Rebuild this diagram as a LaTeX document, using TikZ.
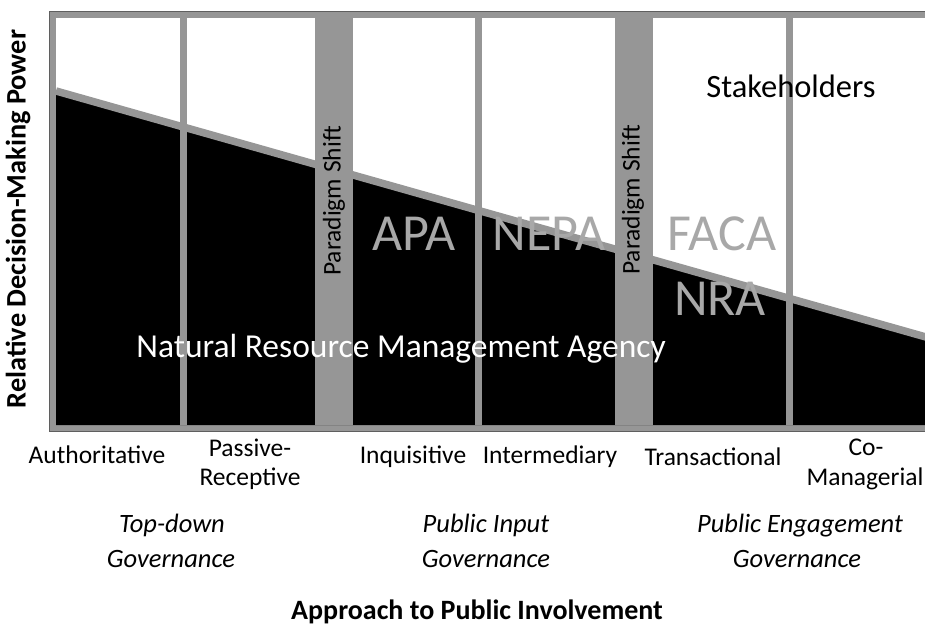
\documentclass[tikz,border=0pt]{standalone}
\usepackage{fontspec}
\setmainfont{Carlito}
\definecolor{bargray}{RGB}{150,150,150}
\definecolor{framedark}{RGB}{95,95,95}
\definecolor{lawgray}{RGB}{168,168,168}
\begin{document}
\begin{tikzpicture}[x=1pt,y=-1pt,
  bar/.style={fill=bargray},
  lawtext/.style={text=lawgray,font=\fontsize{52}{60}\selectfont,anchor=base,inner sep=0pt},
  shiftlabel/.style={rotate=90,font=\fontsize{25.5}{30}\selectfont,inner sep=0pt},
  level/.style={font=\fontsize{25.5}{30}\selectfont,anchor=base,inner sep=0pt},
  gov/.style={font=\itshape\fontsize{26.5}{32}\selectfont,anchor=base,inner sep=0pt}]
\path[use as bounding box] (0,0) rectangle (925,629);
\clip (0,0) rectangle (925,629);
% frame
\fill[bargray] (49,11) rectangle (940,432);
\draw[framedark,line width=1pt] (940,11.5) -- (49.5,11.5) -- (49.5,431.5) -- (940,431.5);
\fill[white] (56,18) rectangle (940,425);
% agency share (black) below the sloped boundary
\fill[black] (56,91) -- (940,341) -- (940,425) -- (56,425) -- cycle;
\draw[bargray,line width=7.5pt] (56,91) -- (940,341);
% dividers
\fill[bar] (180,18) rectangle (187,425);
\fill[bar] (475,18) rectangle (482,425);
\fill[bar] (785.5,18) rectangle (792.5,425);
% paradigm shift bars
\fill[bar] (315,18) rectangle (353,425);
\fill[bar] (615,18) rectangle (653,425);
\node[shiftlabel] (ps1) at (334,201) {Paradigm Shift};
\node[shiftlabel] (ps2) at (633,200) {Paradigm Shift};
% labels inside
\node[anchor=base,inner sep=0pt,font=\fontsize{32.5}{38}\selectfont] (stake) at (791,97) {Stakeholders};
\node[lawtext] (apa) at (414,250) {APA};
\node[lawtext] (nepa) at (549,250) {NEPA};
\node[lawtext] (faca) at (722,250) {FACA};
\node[lawtext] (nra) at (720,315) {NRA};
\node[anchor=base,inner sep=0pt,text=white,font=\fontsize{33.5}{40}\selectfont] (agency) at (401,357) {Natural Resource Management Agency};
% axis titles
\node[rotate=90,inner sep=0pt,font=\bfseries\fontsize{28.3}{34}\selectfont] (ylab) at (18,219) {Relative Decision-Making Power};
\node[anchor=base,inner sep=0pt,font=\bfseries\fontsize{28}{34}\selectfont] (xlab) at (477,619) {Approach to Public Involvement};
% approach levels
\node[level] (auth) at (97,463) {Authoritative};
\node[level] (pass1) at (250,456) {Passive-};
\node[level] (pass2) at (250,485) {Receptive};
\node[level] (inq) at (413,463) {Inquisitive};
\node[level] (inter) at (550,463) {Intermediary};
\node[level] (trans) at (713,465) {Transactional};
\node[level] (co1) at (866,455) {Co-};
\node[level] (co2) at (865,485) {Managerial};
% governance groups
\node[gov] (td1) at (172,532) {Top-down};
\node[gov] (td2) at (171,567) {Governance};
\node[gov] (pi1) at (486,532) {Public Input};
\node[gov] (pi2) at (486,567) {Governance};
\node[gov] (pe1) at (800,532) {Public Engagement};
\node[gov] (pe2) at (797,567) {Governance};
\end{tikzpicture}
\end{document}
